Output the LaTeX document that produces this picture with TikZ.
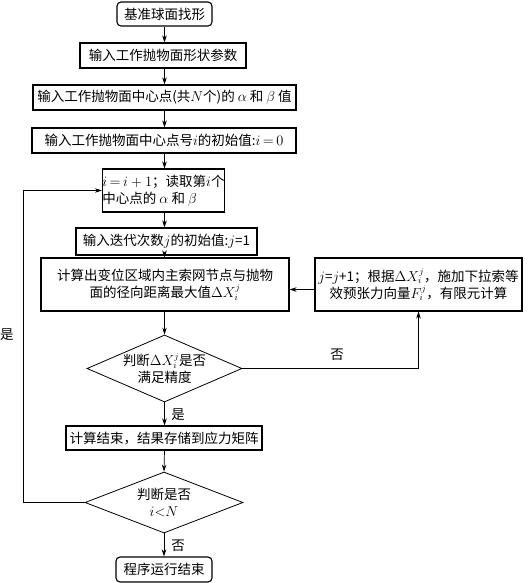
\documentclass[tikz,border=0pt]{standalone}
\usepackage[no-math]{fontspec}
\setmainfont{Noto Sans CJK SC}
\usetikzlibrary{shapes.geometric,arrows.meta}
\begin{document}
\begin{tikzpicture}[x=1pt,y=-1pt,
  txt/.style={font=\fontsize{13.5}{17}\selectfont},
  box/.style={txt,draw,line width=1.1pt,inner sep=0pt,minimum height=25pt,align=center},
  term/.style={box,rounded corners=4pt},
  dia/.style={draw,line width=0.8pt,diamond,inner sep=0pt},
  arr/.style={draw,line width=0.7pt,-{Stealth[length=7pt,width=4.5pt]}},
  lab/.style={txt,inner sep=0pt}
]
\useasboundingbox (0,0) rectangle (527,583);
\node[term,minimum width=95pt,minimum height=24pt] (b1) at (164.5,14) {基准球面找形};
\node[box,minimum width=166pt] (b2) at (163,55.5) {输入工作抛物面形状参数};
\node[box,minimum width=263pt] (b3) at (164.5,97.5) {输入工作抛物面中心点(共$N$个)的 $\alpha$ 和 $\beta$ 值};
\node[box,minimum width=264pt] (b4) at (164,140.5) {输入工作抛物面中心点号$i$的初始值:$i\,{=}\,0$};
\node[box,minimum width=119pt,minimum height=43pt,align=left] (b5) at (163.5,190.5) {$i\,{=}\,i+1$；读取第$i$个\\中心点的 $\alpha$ 和 $\beta$};
\node[box,minimum width=181pt,minimum height=27pt] (b6) at (166.5,241.5) {输入迭代次数$j$的初始值:$j$=1};
\node[box,minimum width=248pt,minimum height=53pt] (b7) at (165,284.5) {计算出变位区域内主索网节点与抛物\\面的径向距离最大值$\Delta X_i^j$};
\node[box,minimum width=207pt,minimum height=53pt] (b8) at (418.5,284.5) {$j$=$j$+1；根据$\Delta X_i^j$，施加下拉索等\\效预张力向量$F_i^j$，有限元计算};
\node[dia,minimum width=155pt,minimum height=67pt] (d1) at (164.5,368.5) {};
\node[lab,align=center] (d1t) at (d1) {判断$\Delta X_i^j$是否\\满足精度};
\node[box,minimum width=196pt,minimum height=24pt] (b9) at (164,438) {计算结束，结果存储到应力矩阵};
\node[dia,minimum width=158pt,minimum height=61pt] (d2) at (164,502.5) {};
\node[lab,align=center] (d2t) at (d2) {判断是否\\$i{<}N$};
\node[term,minimum width=96pt] (b10) at (164,569.5) {程序运行结束};
\coordinate (lp) at (23,502.5);
\draw[arr] (b1.south) -- (b1.south |- b2.north);
\draw[arr] (b1.south |- b2.south) -- (b1.south |- b3.north);
\draw[arr] (b1.south |- b3.south) -- (b1.south |- b4.north);
\draw[arr] (b1.south |- b4.south) -- (b1.south |- b5.north);
\draw[arr] (b1.south |- b5.south) -- (b1.south |- b6.north);
\draw[arr] (b1.south |- b6.south) -- (b1.south |- b7.north);
\draw[arr] (b1.south |- b7.south) -- (d1.north);
\draw[arr] (d1.south) -- (d1.south |- b9.north);
\draw[arr] (d1.south |- b9.south) -- (d2.north);
\draw[arr] (d2.south) -- (b10.north);
\draw[arr] ([yshift=-5pt]b8.west) -- ([yshift=-5pt]b8.west -| b7.east);
\draw[arr] (d1.east) -| (b8.south);
\draw[arr] (d2.west) -- (lp) |- (b5.west);
\node[lab] (l1) at (337,355) {否};
\node[lab] (l2) at (178,415) {是};
\node[lab] (l3) at (178,546) {否};
\node[lab] (l4) at (7,335) {是};
\end{tikzpicture}
\end{document}
